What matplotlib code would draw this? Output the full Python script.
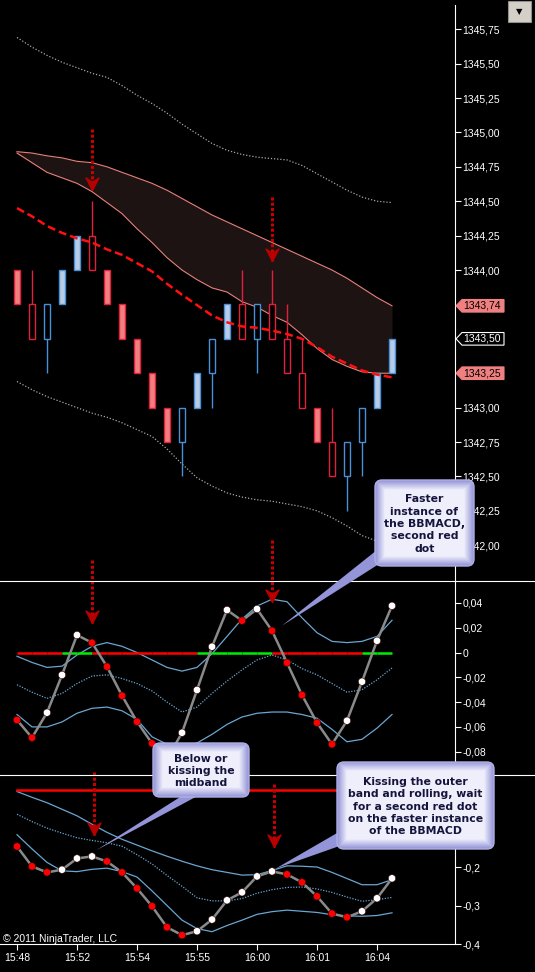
import numpy as np
import matplotlib
matplotlib.use("Agg")
import matplotlib.pyplot as plt
from matplotlib import transforms
from matplotlib.patches import Polygon, FancyBboxPatch, Rectangle
from matplotlib.path import Path

plt.rcParams['font.family'] = ['Liberation Sans', 'DejaVu Sans']

W, H, DPI = 535, 972, 100

# ---------------- data ----------------
times = ["15:48", "15:52", "15:54", "15:55", "16:00", "16:01", "16:04"]
time_bars = [0, 4, 8, 12, 16, 20, 24]

opens = [1344.00, 1343.75, 1343.50, 1343.75, 1344.00, 1344.25, 1344.00, 1343.75, 1343.50,
         1343.25, 1343.00, 1342.75, 1343.00, 1343.25, 1343.50, 1343.75, 1343.50, 1343.75,
         1343.50, 1343.25, 1343.00, 1342.75, 1342.50, 1342.75, 1343.00, 1343.25]
closes = [1343.75, 1343.50, 1343.75, 1344.00, 1344.25, 1344.00, 1343.75, 1343.50, 1343.25,
          1343.00, 1342.75, 1343.00, 1343.25, 1343.50, 1343.75, 1343.50, 1343.75, 1343.50,
          1343.25, 1343.00, 1342.75, 1342.50, 1342.75, 1343.00, 1343.25, 1343.50]
highs = [1344.00, 1344.00, 1343.75, 1344.00, 1344.25, 1344.50, 1344.00, 1343.75, 1343.50,
         1343.25, 1343.00, 1343.00, 1343.25, 1343.50, 1343.75, 1344.00, 1343.75, 1344.00,
         1343.75, 1343.50, 1343.00, 1343.00, 1342.75, 1343.00, 1343.25, 1343.50]
lows = [1343.75, 1343.50, 1343.25, 1343.75, 1344.00, 1344.00, 1343.75, 1343.50, 1343.25,
        1343.00, 1342.75, 1342.50, 1343.00, 1343.00, 1343.50, 1343.50, 1343.25, 1343.50,
        1343.25, 1343.00, 1342.75, 1342.50, 1342.25, 1342.50, 1343.00, 1343.25]
hollow = [0, 1, 1, 0, 0, 1, 0, 0, 0, 0, 0, 1, 0, 1, 0, 1, 1, 1, 1, 1, 0, 1, 1, 1, 0, 0]

outer_upper = [1345.69, 1345.62, 1345.56, 1345.51, 1345.47, 1345.43, 1345.40, 1345.34, 1345.27,
               1345.21, 1345.14, 1345.06, 1344.99, 1344.92, 1344.87, 1344.84, 1344.82, 1344.81,
               1344.80, 1344.76, 1344.70, 1344.64, 1344.58, 1344.53, 1344.50, 1344.49]
outer_lower = [1343.19, 1343.13, 1343.08, 1343.04, 1343.00, 1342.96, 1342.93, 1342.89, 1342.84,
               1342.79, 1342.70, 1342.59, 1342.49, 1342.43, 1342.38, 1342.35, 1342.33, 1342.32,
               1342.30, 1342.28, 1342.25, 1342.20, 1342.14, 1342.07, 1342.03, 1342.00]
ch_upper = [1344.86, 1344.85, 1344.83, 1344.815, 1344.79, 1344.78, 1344.75, 1344.71, 1344.67,
            1344.63, 1344.58, 1344.52, 1344.46, 1344.40, 1344.35, 1344.30, 1344.25, 1344.20,
            1344.15, 1344.10, 1344.05, 1344.00, 1343.94, 1343.87, 1343.80, 1343.74]
ch_lower = [1344.85, 1344.78, 1344.71, 1344.67, 1344.63, 1344.57, 1344.49, 1344.41, 1344.30,
            1344.20, 1344.09, 1344.00, 1343.93, 1343.87, 1343.84, 1343.77, 1343.73, 1343.67,
            1343.62, 1343.53, 1343.43, 1343.35, 1343.30, 1343.26, 1343.25, 1343.25]
mid_dash = [1344.45, 1344.39, 1344.32, 1344.27, 1344.23, 1344.20, 1344.15, 1344.11, 1344.05,
            1343.99, 1343.90, 1343.82, 1343.745, 1343.67, 1343.62, 1343.59, 1343.58, 1343.56,
            1343.535, 1343.50, 1343.44, 1343.37, 1343.32, 1343.27, 1343.24, 1343.22]

fast = [-0.0544, -0.0687, -0.0485, -0.0181, 0.0141, 0.0079, -0.0114, -0.0348, -0.0558,
        -0.0733, -0.086, -0.0647, -0.0302, 0.0047, 0.0343, 0.0257, 0.0351, 0.0176,
        -0.0082, -0.0343, -0.0566, -0.074, -0.055, -0.0235, 0.0095, 0.0377]
fast_upper = [-0.003, -0.008, -0.012, -0.011, -0.002, 0.005, 0.008, 0.005, 0.0, -0.006,
              -0.012, -0.015, -0.012, -0.001, 0.013, 0.027, 0.0375, 0.043, 0.041, 0.028,
              0.016, 0.009, 0.008, 0.009, 0.013, 0.026]
fast_mid = [-0.026, -0.032, -0.037, -0.033, -0.025, -0.019, -0.018, -0.021, -0.025, -0.031,
            -0.040, -0.048, -0.044, -0.033, -0.023, -0.014, -0.006, -0.002, -0.006, -0.013,
            -0.018, -0.025, -0.032, -0.030, -0.022, -0.0125]
fast_lower = [-0.050, -0.060, -0.060, -0.056, -0.049, -0.045, -0.044, -0.047, -0.054, -0.068,
              -0.074, -0.076, -0.073, -0.066, -0.058, -0.052, -0.049, -0.048, -0.048, -0.050,
              -0.053, -0.062, -0.072, -0.070, -0.061, -0.050]
fast_zero_green = [0, 0, 0, 0, 1, 1, 0, 0, 0, 0, 0, 0, 0, 1, 1, 1, 1, 1, 0, 0, 0, 0, 0, 0, 1, 1]

slow = [-0.1466, -0.1984, -0.214, -0.207, -0.1777, -0.1725, -0.1855, -0.214, -0.2554,
        -0.302, -0.3565, -0.377, -0.3668, -0.3365, -0.2865, -0.2658, -0.2244, -0.2114,
        -0.2192, -0.2399, -0.2762, -0.321, -0.3306, -0.315, -0.2813, -0.2295]
slow_upper = [-0.004, -0.019, -0.033, -0.050, -0.067, -0.089, -0.110, -0.128, -0.143, -0.158,
              -0.172, -0.185, -0.197, -0.207, -0.214, -0.221, -0.220, -0.209, -0.197, -0.198,
              -0.200, -0.214, -0.230, -0.246, -0.246, -0.233]
slow_mid = [-0.063, -0.082, -0.099, -0.112, -0.124, -0.131, -0.137, -0.146, -0.168, -0.192,
            -0.222, -0.250, -0.280, -0.288, -0.288, -0.282, -0.268, -0.259, -0.253, -0.252,
            -0.257, -0.266, -0.278, -0.289, -0.285, -0.279]
slow_lower = [-0.116, -0.153, -0.188, -0.210, -0.212, -0.206, -0.203, -0.212, -0.226, -0.262,
              -0.300, -0.338, -0.360, -0.368, -0.352, -0.338, -0.323, -0.316, -0.312, -0.315,
              -0.318, -0.324, -0.327, -0.328, -0.326, -0.319]

price_ticks = [1342.00, 1342.25, 1342.50, 1342.75, 1343.00, 1344.00, 1344.25, 1344.50,
               1344.75, 1345.00, 1345.25, 1345.50, 1345.75]
fast_ticks = [0.04, 0.02, 0.0, -0.02, -0.04, -0.06, -0.08]
slow_ticks = [-0.2, -0.3, -0.4]

# signal arrows: (bar, start, end) per panel
arrows_price = [(5, 1345.025, 1344.58), (17, 1344.53, 1344.065)]
arrows_fast = [(5, 0.0746, 0.0238), (17, 0.0907, 0.0407)]
arrows_slow = [(5.1, 0.047, -0.116), (17.1, 0.0163, -0.147)]

bars = np.arange(len(opens))


def fmt(v, nd):
    if abs(v) < 1e-12:
        return "0"
    return f"{v:.{nd}f}".replace('.', ',')


fig = plt.figure(figsize=(W / DPI, H / DPI), dpi=DPI, facecolor='black')


def panel(top, bottom):
    return fig.add_axes([0, 1 - bottom / H, 455 / W, (bottom - top) / H])


ax_p = panel(5, 581)
ax_f = panel(581, 775)
ax_s = panel(775, 944)

for ax in (ax_p, ax_f, ax_s):
    ax.set_facecolor('black')
    for s in ('top', 'left', 'bottom'):
        ax.spines[s].set_visible(False)
    ax.spines['right'].set_color('white')
    ax.spines['right'].set_linewidth(0.8)
    ax.yaxis.tick_right()
    ax.tick_params(axis='y', colors='white', direction='out', length=4.3, width=0.8,
                   pad=1, labelsize=7.5)
    ax.tick_params(axis='x', bottom=False, labelbottom=False)
    ax.set_xlim(-17 / 15, 438 / 15)

ax_p.set_ylim(1341.74, 1345.926)
ax_f.set_ylim(-0.0988, 0.0577)
ax_s.set_ylim(-0.4, 0.039)

ax_p.set_yticks(price_ticks)
ax_p.set_yticklabels([fmt(v, 2) for v in price_ticks])
ax_f.set_yticks(fast_ticks)
ax_f.set_yticklabels([fmt(v, 2) for v in fast_ticks])
ax_s.set_yticks(slow_ticks)
ax_s.set_yticklabels([fmt(v, 1) for v in slow_ticks])

ax_s.spines['bottom'].set_visible(True)
ax_s.spines['bottom'].set_color('white')
ax_s.spines['bottom'].set_linewidth(0.8)
ax_s.set_xticks(time_bars)
ax_s.set_xticklabels(times)
ax_s.tick_params(axis='x', bottom=True, labelbottom=True, colors='white', direction='out',
                 length=4, width=0.8, pad=2.5, labelsize=7.5)

# ---------------- price panel ----------------
o = np.array(opens)
c = np.array(closes)
up = c > o
edge_c = np.where(up, '#4a8fd8', '#e0203c')
fill_c = np.where(up, '#b8cce6', '#f08080')
face_c = ['#000000' if h else f for h, f in zip(hollow, fill_c)]

ax_p.fill_between(bars, ch_lower, ch_upper, color='#1e1313', lw=0, zorder=1)
ax_p.plot(bars, ch_upper, color='#e8807a', lw=0.8, zorder=2)
ax_p.plot(bars, ch_lower, color='#e8807a', lw=0.8, zorder=2)
ax_p.plot(bars, outer_upper, color='#a8a8a8', lw=0.9, ls=(0, (1, 1.5)), zorder=2)
ax_p.plot(bars, outer_lower, color='#a8a8a8', lw=0.9, ls=(0, (1, 1.5)), zorder=2)
ax_p.vlines(bars, lows, highs, colors=edge_c, lw=1, zorder=3)
ax_p.bar(bars, np.abs(c - o), bottom=np.minimum(o, c), width=0.46, color=face_c,
         edgecolor=edge_c, linewidth=1, zorder=4)
ax_p.plot(bars, mid_dash, color='#ff1010', lw=1.8, ls=(0, (3.2, 1.6)), zorder=5)

# ---------------- indicator panels ----------------
band_col = '#6aa6d2'
for ax, ub, mb, lb in ((ax_f, fast_upper, fast_mid, fast_lower),
                       (ax_s, slow_upper, slow_mid, slow_lower)):
    ax.plot(bars, ub, color=band_col, lw=0.9, zorder=2)
    ax.plot(bars, mb, color=band_col, lw=0.9, ls=(0, (1, 1.2)), zorder=2)
    ax.plot(bars, lb, color=band_col, lw=0.9, zorder=2)

for i in range(1, len(bars)):
    col = '#00ee00' if fast_zero_green[i] else '#ff0000'
    ax_f.plot(bars[i - 1:i + 1], np.zeros(2), color=col, lw=1.8, solid_capstyle='butt', zorder=3)
ax_s.plot(bars, np.zeros(len(bars)), color='#ff0000', lw=1.8, zorder=3)

for ax, vals in ((ax_f, fast), (ax_s, slow)):
    v = np.array(vals)
    rising = np.r_[False, np.diff(v) > 0]
    cols = np.where(rising, '#ffffff', '#ff0000')
    ax.plot(bars, v, color='#8a8a8a', lw=1.8, zorder=4)
    ax.scatter(bars, v, c=cols, s=28, edgecolors='#300000', linewidths=0.4, zorder=5)

# ---------------- drop arrows ----------------
head = Path([(0, 0), (-0.75, 1.45), (0, 0.95), (0.75, 1.45), (0, 0)],
            [Path.MOVETO, Path.LINETO, Path.LINETO, Path.LINETO, Path.CLOSEPOLY])
for ax, arrs in ((ax_p, arrows_price), (ax_f, arrows_fast), (ax_s, arrows_slow)):
    for x, y0, y1 in arrs:
        ax.plot([x, x], [y0, y1], color='#c80000', lw=2.2, ls=(0, (1, 0.7)),
                clip_on=False, zorder=6)
        ax.plot([x], [y1], marker=head, ms=18, color='#b80000', mec='#b80000',
                clip_on=False, zorder=7)

# ---------------- price tags ----------------
def price_tag(ax, val, fc, ec, tc):
    blend = transforms.blended_transform_factory(ax.transAxes, ax.transData)
    tr = fig.dpi_scale_trans + transforms.ScaledTranslation(1.0, val, blend)
    verts = np.array([(1, 0), (7, 6.3), (49, 6.3), (49, -6.3), (7, -6.3)]) / DPI
    fig.add_artist(Polygon(verts, closed=True, fc=fc, ec=ec, lw=0.8, transform=tr, zorder=5))
    fig.text(1.0, val, fmt(val, 2), color=tc, fontsize=7.5, ha='left', va='center',
             transform=transforms.offset_copy(blend, fig=fig, x=8, y=0, units='dots'), zorder=6)


price_tag(ax_p, ch_upper[-1], '#f08080', '#f08080', 'black')
price_tag(ax_p, closes[-1], 'black', 'white', 'white')
price_tag(ax_p, ch_lower[-1], '#f08080', '#f08080', 'black')

# ---------------- overlay: chrome and callouts ----------------
ov = fig.add_axes([0, 0, 1, 1], zorder=10)
ov.set_facecolor('none')
ov.axis('off')

ov.plot([0, W], [581, 581], color='white', lw=0.8)
ov.plot([0, W], [775, 775], color='white', lw=0.8)
ov.add_patch(Rectangle((508, 1), 23, 21, fc='#d4d0c8', ec='#909090', lw=0.8))
ov.text(519.5, 11.5, '▼', ha='center', va='center', fontsize=6, color='black',
        family='DejaVu Sans')
ov.text(3, 939, '© 2011 NinjaTrader, LLC', color='white', fontsize=7.5, ha='left', va='center')


def to_px(ax, x, y):
    X, Y = ax.transData.transform((x, y))
    return X, H - Y


def callout(box, text, tip, base):
    x0, y0, x1, y1 = box
    ov.add_patch(Polygon([base[0], tip, base[1]], closed=True, fc='#9494d8', ec='none', zorder=11))
    patch = FancyBboxPatch((x0, y0), x1 - x0, y1 - y0, boxstyle="round,pad=0,rounding_size=7",
                           fc='none', ec='#b0b0e6', lw=1, zorder=13)
    ov.add_patch(patch)
    w, h = int(x1 - x0), int(y1 - y0)
    yy, xx = np.mgrid[0:h, 0:w] + 0.5
    d = np.minimum(np.minimum(xx, w - xx), np.minimum(yy, h - yy))
    f = np.clip(d / 10.0, 0, 1)[..., None]
    edge = np.array([0.56, 0.56, 0.84])
    center = np.array([0.94, 0.94, 0.99])
    img = edge * (1 - f) + center * f
    im = ov.imshow(img, extent=(x0, x1, y1, y0), zorder=12, interpolation='bilinear',
                   aspect='auto')
    im.set_clip_path(patch)
    ov.text((x0 + x1) / 2, (y0 + y1) / 2 + 1, text, ha='center', va='center', fontsize=7.8,
            fontweight='bold', color='#14143c', linespacing=1.3, family='DejaVu Sans', zorder=14)


tx, ty = to_px(ax_f, 17, fast[17])
callout((375, 480, 474, 566), "Faster\ninstance of\nthe BBMACD,\nsecond red\ndot",
        (tx + 10, ty - 5), [(382, 546), (390, 557)])
tx, ty = to_px(ax_s, 5, slow[5])
callout((153, 743, 249, 797), "Below or\nkissing the\nmidband",
        (tx + 4, ty - 6), [(188, 792), (205, 792)])
tx, ty = to_px(ax_s, 17, slow[17])
callout((337, 762, 494, 849),
        "Kissing the outer\nband and rolling, wait\nfor a second red dot\non the faster instance\nof the BBMACD",
        (tx + 4, ty - 3), [(344, 829), (348, 843)])

ov.set_xlim(0, W)
ov.set_ylim(H, 0)

fig.savefig('out.png', dpi=DPI, facecolor='black')
